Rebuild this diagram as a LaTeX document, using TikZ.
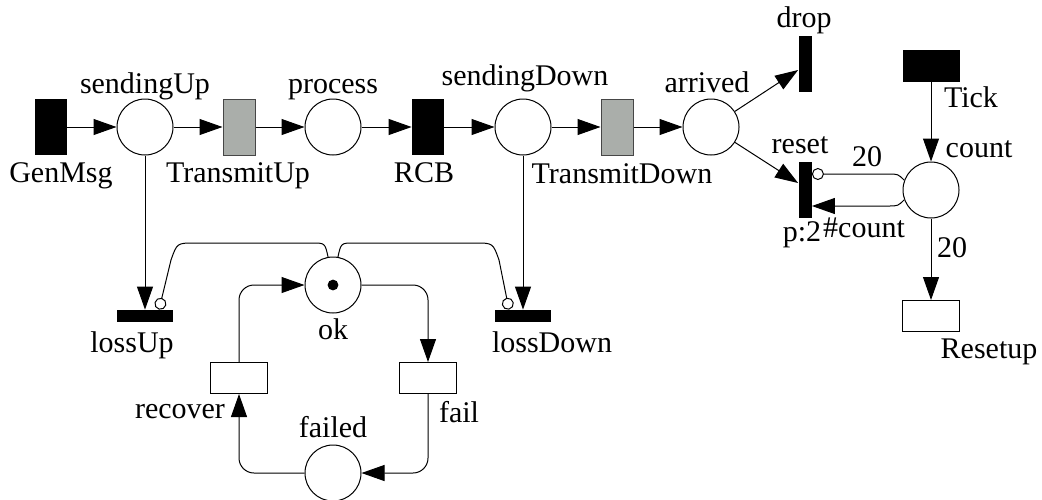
\documentclass[tikz,border=0pt]{standalone}
\usepackage{fontspec}
\setmainfont{Liberation Serif}
\usetikzlibrary{arrows.meta}
\definecolor{trgray}{RGB}{170,174,170}
\definecolor{trline}{RGB}{70,70,70}

\tikzset{
  place/.style={circle, draw, line width=0.5pt, minimum size=28pt, inner sep=0pt},
  blacktr/.style={rectangle, fill=black, inner sep=0pt},
  graytr/.style={rectangle, draw=trline, fill=trgray, line width=0.5pt, inner sep=0pt, minimum width=16pt, minimum height=28pt},
  whitetr/.style={rectangle, draw, line width=0.5pt, fill=white, inner sep=0pt, minimum width=28.5pt, minimum height=15.5pt},
  vtr/.style={blacktr, minimum width=16pt, minimum height=28pt},
  vbar/.style={blacktr, minimum width=6.5pt, minimum height=28pt},
  hbar/.style={blacktr, minimum width=28pt, minimum height=6pt},
  lbl/.style={inner sep=0pt, anchor=base, font=\fontsize{15}{18}\selectfont},
  flow/.style={line width=0.5pt, -{Triangle[length=11.5pt, width=8pt]}},
  inh/.style={line width=0.5pt, -{Circle[open, length=6pt, width=6pt]}},
}

\begin{document}
\begin{tikzpicture}[x=0.5pt, y=-0.5pt]
\useasboundingbox (0,0) rectangle (1042,499);

% upper row
\node[vtr] (GenMsg) at (51,127) {};
\node[place] (sendingUp) at (145,127) {};
\node[graytr] (TransmitUp) at (239,127) {};
\node[place] (process) at (333,127) {};
\node[vtr] (RCB) at (428,127) {};
\node[place] (sendingDown) at (523,127) {};
\node[graytr] (TransmitDown) at (617,127) {};
\node[place] (arrived) at (711,127) {};
\node[vbar] (drop) at (805,64) {};
\node[vbar] (reset) at (805,190) {};

% clock
\node[blacktr, minimum width=28.5pt, minimum height=16pt] (Tick) at (931,66) {};
\node[place] (count) at (931,190) {};
\node[whitetr] (Resetup) at (931,316) {};

% loss and failure
\node[hbar] (lossUp) at (145,316) {};
\node[hbar] (lossDown) at (523,316) {};
\node[place] (ok) at (333,285) {};
\fill (ok.center) circle (2.7pt);
\node[whitetr] (recover) at (239,378) {};
\node[whitetr] (fail) at (428,378) {};
\node[place] (failed) at (333,473) {};

% labels
\node[lbl] (tGenMsg) at (61,182) {GenMsg};
\node[lbl] (tsendingUp) at (145,93) {sendingUp};
\node[lbl] (tTransmitUp) at (238,182) {TransmitUp};
\node[lbl] (tprocess) at (333,93) {process};
\node[lbl] (tRCB) at (424,182) {RCB};
\node[lbl] (tsendingDown) at (525,85) {sendingDown};
\node[lbl] (tTransmitDown) at (622,183) {TransmitDown};
\node[lbl] (tarrived) at (707,92) {arrived};
\node[lbl] (tdrop) at (804,27) {drop};
\node[lbl] (treset) at (800,153) {reset};
\node[lbl] (tp) at (802,241) {p:2};
\node[lbl] (tncount) at (864,237) {\#count};
\node[lbl] (tnum) at (867,166) {20};
\node[lbl] (tTick) at (971,107) {Tick};
\node[lbl] (tcount) at (979,157) {count};
\node[lbl] (tnumb) at (952,257) {20};
\node[lbl] (tResetup) at (989,358) {Resetup};
\node[lbl] (tlossUp) at (132,352) {lossUp};
\node[lbl] (tlossDown) at (552,352) {lossDown};
\node[lbl] (tok) at (333,339) {ok};
\node[lbl] (trecover) at (180,418) {recover};
\node[lbl] (tfail) at (459,422) {fail};
\node[lbl] (tfailed) at (333,437) {failed};

% arcs
\draw[flow] (GenMsg) -- (sendingUp);
\draw[flow] (sendingUp) -- (TransmitUp);
\draw[flow] (TransmitUp) -- (process);
\draw[flow] (process) -- (RCB);
\draw[flow] (RCB) -- (sendingDown);
\draw[flow] (sendingDown) -- (TransmitDown);
\draw[flow] (TransmitDown) -- (arrived);
\draw[flow] (arrived) -- ([yshift=-3pt]drop.west);
\draw[flow] (arrived) -- ([yshift=3.5pt]reset.west);
\draw[flow] (sendingUp) -- (lossUp);
\draw[flow] (sendingDown) -- (lossDown);

\draw[flow] (Tick) -- (count);
\draw[flow] (count) -- (Resetup);
\draw[inh] (count.160) .. controls (898,174) .. (888,174) -- ([yshift=8pt]reset.east);
\draw[flow] (count.200) .. controls (898,206) .. (888,206) -- ([yshift=-8pt]reset.east);

\draw[inh] (ok.100) .. controls (325,243) .. (312,243) -- (195,243)
  .. controls (177,243) .. (171,260) -- ([xshift=7pt]lossUp.north);
\draw[inh] (ok.80) .. controls (341,243) .. (354,243) -- (475,243)
  .. controls (493,243) .. (499,260) -- ([xshift=-7pt]lossDown.north);

\draw[flow, rounded corners=7.5pt] (ok.east) -| (fail.north);
\draw[flow, rounded corners=7.5pt] (fail.south) |- (failed.east);
\draw[flow, rounded corners=7.5pt] (failed.west) -| (recover.south);
\draw[flow, rounded corners=7.5pt] (recover.north) |- (ok.west);
\end{tikzpicture}
\end{document}
